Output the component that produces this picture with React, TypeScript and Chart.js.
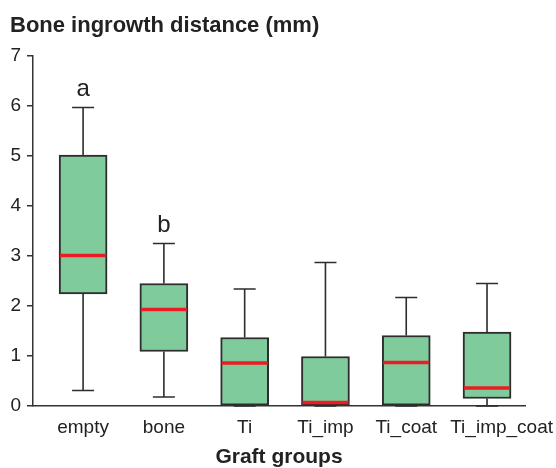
import React, { useEffect, useRef } from "react";
import { Chart, registerables } from "chart.js";

Chart.register(...registerables);

const categories = ["empty", "bone", "Ti", "Ti_imp", "Ti_coat", "Ti_imp_coat"];
const whiskerHigh = [5.97, 3.25, 2.34, 2.87, 2.17, 2.45];
const q3 = [5.02, 2.45, 1.37, 0.99, 1.41, 1.48];
const median = [3.01, 1.93, 0.86, 0.07, 0.87, 0.36];
const q1 = [2.24, 1.09, 0.0, 0.0, 0.0, 0.15];
const whiskerLow = [0.31, 0.18, 0.0, 0.0, 0.0, 0.0];
const sigLetters = ["a", "b", "", "", "", ""];
const yTicks = [0, 1, 2, 3, 4, 5, 6, 7];

const TITLE = "Bone ingrowth distance (mm)";
const X_TITLE = "Graft groups";
const FONT = "'Liberation Sans', Arial, Helvetica, sans-serif";
const BOX_FILL = "#80CB9C";
const BOX_EDGE = "#2d2d2d";
const MEDIAN_RED = "#EC1C24";
const AXIS = "#333333";
const TEXT = "#222222";

const boxPlugin = {
  id: "boxExtras",
  afterDatasetsDraw(chart: any) {
    const { ctx, scales, chartArea } = chart;
    const xs = scales.x;
    const ys = scales.y;
    const half = 24;
    const cap = 11;
    ctx.save();
    categories.forEach((c, i) => {
      const cx = xs.getPixelForValue(i);
      const yHi = ys.getPixelForValue(whiskerHigh[i]);
      const yQ3 = ys.getPixelForValue(q3[i]);
      const yQ1 = ys.getPixelForValue(q1[i]);
      const yLo = ys.getPixelForValue(whiskerLow[i]);
      const yMed = ys.getPixelForValue(median[i]);
      ctx.strokeStyle = BOX_EDGE;
      ctx.lineWidth = 1.6;
      ctx.beginPath();
      ctx.moveTo(cx, yQ3);
      ctx.lineTo(cx, yHi);
      ctx.moveTo(cx - cap, yHi);
      ctx.lineTo(cx + cap, yHi);
      if (yLo > yQ1 + 0.5) {
        ctx.moveTo(cx, yQ1);
        ctx.lineTo(cx, yLo);
      }
      ctx.moveTo(cx - cap, yLo);
      ctx.lineTo(cx + cap, yLo);
      ctx.stroke();
      ctx.strokeStyle = MEDIAN_RED;
      ctx.lineWidth = 3.5;
      ctx.beginPath();
      ctx.moveTo(cx - half + 1, yMed);
      ctx.lineTo(cx + half - 1, yMed);
      ctx.stroke();
      if (sigLetters[i]) {
        ctx.fillStyle = TEXT;
        ctx.font = `24px ${FONT}`;
        ctx.textAlign = "center";
        ctx.textBaseline = "alphabetic";
        ctx.fillText(sigLetters[i], cx, yHi - 12);
      }
    });
    // x category labels
    ctx.fillStyle = TEXT;
    ctx.font = `19px ${FONT}`;
    ctx.textBaseline = "alphabetic";
    ctx.textAlign = "center";
    categories.forEach((c, i) => {
      let cx = xs.getPixelForValue(i);
      if (i === categories.length - 1) {
        const w = ctx.measureText(c).width;
        cx = chart.width - 3 - w / 2;
      }
      ctx.fillText(c, cx, chartArea.bottom + 27);
    });
    // titles
    ctx.font = `bold 22px ${FONT}`;
    ctx.textAlign = "left";
    ctx.fillText(TITLE, 10, 32);
    ctx.font = `bold 21px ${FONT}`;
    ctx.textAlign = "center";
    ctx.fillText(X_TITLE, (chartArea.left + chartArea.right) / 2, chartArea.bottom + 57);
    ctx.restore();
  },
};

export default function App() {
  const ref = useRef<HTMLCanvasElement>(null);
  useEffect(() => {
    document.body.style.margin = "0";
    const chart = new Chart(ref.current as HTMLCanvasElement, {
      type: "bar",
      data: {
        datasets: [
          {
            data: categories.map((c, i) => ({ x: i, y: [q1[i], q3[i]] })) as any,
            backgroundColor: BOX_FILL,
            borderColor: BOX_EDGE,
            borderWidth: 2,
            borderSkipped: false,
            barThickness: 48,
          },
        ],
      },
      options: {
        animation: false,
        responsive: false,
        layout: { padding: { top: 56, right: 31, bottom: 0, left: 0 } },
        plugins: { legend: { display: false }, tooltip: { enabled: false }, title: { display: false } },
        scales: {
          x: {
            type: "linear",
            offset: false,
            min: -0.62,
            max: 5.47,
            afterFit: (s: any) => {
              s.height = 62;
            },
            grid: { display: false, drawTicks: false, offset: false },
            border: { display: true, color: AXIS, width: 1.5 },
            ticks: { display: false },
          },
          y: {
            min: 0,
            max: 7,
            afterFit: (s: any) => {
              s.width = 33;
            },
            afterBuildTicks: (s: any) => {
              s.ticks = yTicks.map((v) => ({ value: v }));
            },
            grid: { drawOnChartArea: false, drawTicks: true, tickLength: 6, color: AXIS, lineWidth: 1.5 },
            border: { display: true, color: AXIS, width: 1.5 },
            ticks: { color: TEXT, font: { family: FONT, size: 19 }, padding: 6 },
          },
        },
      },
      plugins: [boxPlugin],
    });
    return () => chart.destroy();
  }, []);
  return <canvas ref={ref} width={556} height={468} />;
}
